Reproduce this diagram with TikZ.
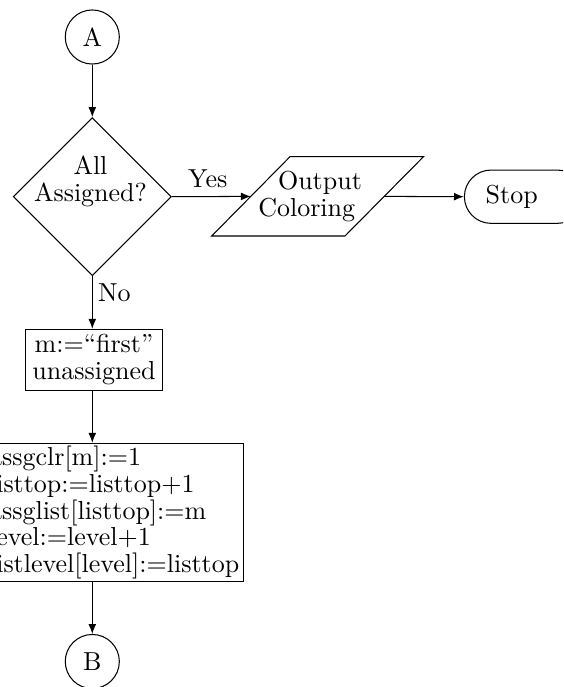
\documentclass[tikz,border=0pt]{standalone}
\usetikzlibrary{shapes.geometric,shapes.misc,arrows.meta}
\begin{document}
\begin{tikzpicture}[x=0.3846pt, y=-0.3846pt,
  font=\fontsize{10}{10.3}\selectfont,
  connector/.style={draw, -{Latex[length=3.8pt,width=3pt]}},
  connect/.style={circle, draw, minimum size=20.8pt, inner sep=0pt},
  decision/.style={diamond, draw, aspect=1, minimum width=60.8pt, minimum height=60.8pt, inner sep=0pt},
  terminal/.style={rounded rectangle, draw, minimum width=46pt, minimum height=20.5pt, inner sep=0pt},
  process/.style={rectangle, draw, inner sep=0pt},
]
\useasboundingbox (0,0) rectangle (563,687);
\clip (0,0) rectangle (563,687);

% shapes
\node[connect] (A) at (92.3,37) {A};
\node[decision] (dec) at (92.3,196.7) {};
\node[align=center, inner sep=0pt] (dectext) at (90.5,181.4) {All\\Assigned?};

% input/output parallelogram
\draw (290,156.7) -- (423.5,156.7) -- (345,236) -- (211.7,236) -- cycle;
\coordinate (outL) at (250.85,196.4);
\coordinate (outR) at (384.25,196.4);
\node[align=center, inner sep=0pt] (outtext) at (306.7,196.7) {\hspace*{10.2pt}Output\\Coloring};

\node[terminal] (stop) at (524.2,196.7) {\hspace*{-9.6pt}Stop};
\node[process, minimum width=52.5pt, minimum height=23.35pt, align=center] (init) at (94,359.7)
  {m:=“first”\\unassigned};
\node[process, minimum width=99.35pt, minimum height=53.2pt, align=left] (assign) at (114.15,512.5)
  {assgclr[m]:=1\\listtop:=listtop+1\\assglist[listtop]:=m\\level:=level+1\\listlevel[level]:=listtop};
\node[connect] (B) at (92.3,661.5) {B};

% flow
\draw[connector] (A) -- (dec);
\draw[connector] (dec.east) -- node[above, pos=0.455] {Yes} (outL);
\draw[connector] (outR) -- (stop.west);
\draw[connector] (dec.south) -- node[right, pos=0.315, inner sep=2pt] {No} (dec.south |- init.north);
\draw[connector] (init.south -| dec.south) -- (assign.north -| dec.south);
\draw[connector] (assign.south -| dec.south) -- (B);
\end{tikzpicture}
\end{document}
